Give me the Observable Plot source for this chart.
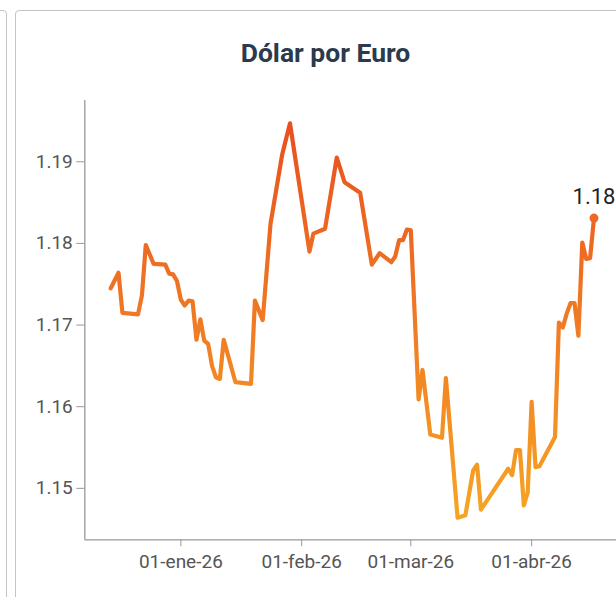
<!DOCTYPE html>
<html>
<head>
<meta charset="utf-8">
<script src="https://cdn.jsdelivr.net/npm/d3@7"></script>
<script src="https://cdn.jsdelivr.net/npm/@observablehq/plot@0.6"></script>
<style>
  html, body { margin: 0; padding: 0; background: #fff; overflow: hidden; width: 616px; height: 597px; }
  body { position: relative; font-family: Roboto, "Noto Sans", sans-serif; }
  .prev-card { position: absolute; left: -30px; top: 10px; width: 37px; height: 700px; border: 1px solid #c4c4c4; border-radius: 4px; box-sizing: border-box; }
  .card { position: absolute; left: 15px; top: 10px; width: 660px; height: 700px; border: 1px solid #c4c4c4; border-radius: 4px; box-sizing: border-box; }
  .title { position: absolute; left: 0; width: 651px; top: 40px; text-align: center; font: 700 26.5px/26.5px Roboto, sans-serif; color: #2b3a4c; }
  #chart { position: absolute; left: 0; top: 0; }
</style>
</head>
<body>
<div class="prev-card"></div>
<div class="card"></div>
<div class="title">Dólar por Euro</div>
<div id="chart"></div>
<script>
// ---- data ----
const dates = [
  "2025-12-14","2025-12-16","2025-12-17","2025-12-21","2025-12-22","2025-12-23","2025-12-25",
  "2025-12-28","2025-12-29","2025-12-30","2025-12-31","2026-01-01","2026-01-02","2026-01-03",
  "2026-01-04","2026-01-05","2026-01-06","2026-01-07","2026-01-08","2026-01-09","2026-01-10",
  "2026-01-11","2026-01-12","2026-01-15","2026-01-19","2026-01-20","2026-01-22","2026-01-24",
  "2026-01-27","2026-01-29","2026-02-03","2026-02-04","2026-02-07","2026-02-10","2026-02-12",
  "2026-02-16","2026-02-19","2026-02-21","2026-02-24","2026-02-25","2026-02-26","2026-02-27",
  "2026-02-28","2026-03-01","2026-03-03","2026-03-04","2026-03-06","2026-03-09","2026-03-10",
  "2026-03-13","2026-03-15","2026-03-17","2026-03-18","2026-03-19","2026-03-26","2026-03-27",
  "2026-03-28","2026-03-29","2026-03-30","2026-03-31","2026-04-01","2026-04-02","2026-04-03",
  "2026-04-07","2026-04-08","2026-04-09","2026-04-10","2026-04-11","2026-04-12","2026-04-13",
  "2026-04-14","2026-04-15","2026-04-16","2026-04-17"
];
const values = [
  1.1745, 1.1764, 1.1715, 1.1713, 1.1736, 1.1798, 1.1775,
  1.1774, 1.1763, 1.1762, 1.1754, 1.1731, 1.1724, 1.1730,
  1.1729, 1.1682, 1.1707, 1.1681, 1.1677, 1.1650, 1.1636,
  1.1634, 1.1682, 1.1630, 1.1628, 1.1730, 1.1706, 1.1824,
  1.1909, 1.1947, 1.1790, 1.1812, 1.1818, 1.1905, 1.1875,
  1.1862, 1.1774, 1.1788, 1.1777, 1.1784, 1.1804, 1.1804,
  1.1817, 1.1816, 1.1609, 1.1645, 1.1566, 1.1562, 1.1635,
  1.1464, 1.1467, 1.1522, 1.1529, 1.1474, 1.1524, 1.1516,
  1.1547, 1.1547, 1.1479, 1.1495, 1.1606, 1.1526, 1.1527,
  1.1563, 1.1703, 1.1697, 1.1714, 1.1727, 1.1727, 1.1687,
  1.1801, 1.1781, 1.1782, 1.1831
];
const xTickDates = ["2026-01-01", "2026-02-01", "2026-03-01", "2026-04-01"];
const xTickLabels = ["01-ene-26", "01-feb-26", "01-mar-26", "01-abr-26"];
const yTicks = [1.15, 1.16, 1.17, 1.18, 1.19];
const yDomain = [1.1437, 1.1975];
const xDomainDays = [-24.65, 112.65]; // days relative to 2026-01-01
const gradientColors = ["#e8501f", "#f07a24", "#f6a523"];

// ---- build ----
const data = dates.map((d, i) => ({date: new Date(d + "T00:00:00Z"), value: values[i]}));
const base = Date.UTC(2026, 0, 1);
const xDomain = xDomainDays.map(d => new Date(base + d * 864e5));
const tickDates = xTickDates.map(d => new Date(d + "T00:00:00Z"));
const last = data[data.length - 1];
const vmax = d3.max(values), vmin = d3.min(values);

const gradient = (index, scales) => {
  const ns = "http://www.w3.org/2000/svg";
  const defs = document.createElementNS(ns, "defs");
  const lg = document.createElementNS(ns, "linearGradient");
  lg.setAttribute("id", "lineGrad");
  lg.setAttribute("gradientUnits", "userSpaceOnUse");
  lg.setAttribute("x1", 0); lg.setAttribute("x2", 0);
  lg.setAttribute("y1", scales.y(vmax)); lg.setAttribute("y2", scales.y(vmin));
  gradientColors.forEach((c, i) => {
    const s = document.createElementNS(ns, "stop");
    s.setAttribute("offset", i / (gradientColors.length - 1));
    s.setAttribute("stop-color", c);
    lg.appendChild(s);
  });
  defs.appendChild(lg);
  return defs;
};

const chart = Plot.plot({
  width: 640,
  height: 597,
  marginLeft: 84.3,
  marginRight: 20.6,
  marginTop: 100,
  marginBottom: 57.7,
  style: {background: "transparent", maxWidth: "none", fontFamily: "Roboto, sans-serif", overflow: "visible"},
  x: {type: "utc", domain: xDomain},
  y: {domain: yDomain},
  marks: [
    gradient,
    Plot.ruleX([xDomain[0]], {stroke: "#999", strokeWidth: 1.3}),
    Plot.ruleY([yDomain[0]], {stroke: "#999", strokeWidth: 1.3}),
    Plot.axisY({ticks: yTicks, tickFormat: d => d.toFixed(2), tickSize: 8, tickPadding: 4,
      fontSize: 19, color: "#555", stroke: "#999", label: null}),
    Plot.axisX({ticks: tickDates, tickFormat: (d, i) => xTickLabels[i], tickSize: 7, tickPadding: 8,
      fontSize: 19, color: "#555", stroke: "#999", label: null}),
    Plot.line(data, {x: "date", y: "value", stroke: "url(#lineGrad)", strokeWidth: 4.2,
      strokeLinejoin: "round", strokeLinecap: "round"}),
    Plot.dot([last], {x: "date", y: "value", r: 4.5, fill: "#ef6823", stroke: "none"}),
    Plot.text([last], {x: "date", y: "value", text: d => d.value.toFixed(2), dy: -21,
      fontSize: 22, fill: "#222"})
  ]
});
document.getElementById("chart").appendChild(chart);
</script>
</body>
</html>
